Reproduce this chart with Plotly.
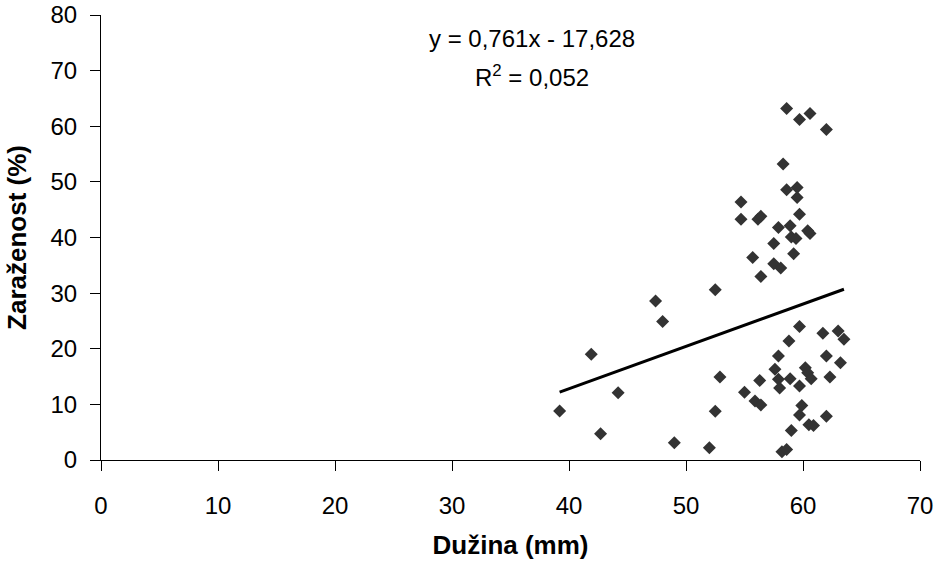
import plotly.graph_objects as go

# Data (Dužina mm, Zaraženost %)
duzina = [39.2, 41.9, 42.7, 44.2, 47.4, 48.0, 49.0, 52.0, 52.5, 52.9, 52.5,
          59.7, 61.7, 63.0, 63.5, 58.8, 57.9, 62.0, 63.2, 57.6, 60.2, 60.4,
          60.7, 58.9, 62.3, 56.3, 57.9, 58.0, 59.7, 55.0, 55.9, 56.4, 59.9,
          59.7, 62.0, 60.5, 60.9, 59.0, 58.2, 58.6,
          58.6, 59.7, 60.6, 62.0, 58.3, 58.6, 59.5, 59.5, 54.7, 54.7, 56.15,
          56.4, 59.7, 57.9, 58.9, 60.4, 60.6, 59.0, 59.4, 57.5, 59.2, 55.7,
          57.5, 58.1, 56.4]
zarazenost = [8.8, 19.0, 4.7, 12.1, 28.6, 24.9, 3.1, 2.2, 30.6, 14.9, 8.75,
              24.0, 22.8, 23.2, 21.7, 21.4, 18.7, 18.7, 17.5, 16.3, 16.6, 15.7,
              14.6, 14.6, 14.9, 14.3, 14.5, 12.95, 13.3, 12.2, 10.6, 9.9, 9.8,
              8.1, 7.85, 6.35, 6.2, 5.3, 1.5, 1.9,
              63.2, 61.2, 62.3, 59.4, 53.2, 48.6, 49.0, 47.2, 46.4, 43.3, 43.3,
              43.8, 44.2, 41.8, 42.1, 41.2, 40.7, 40.1, 39.8, 38.9, 37.1, 36.4,
              35.3, 34.5, 33.0]

slope = 0.761
intercept = -17.628
equation_text = "y = 0,761x - 17,628"
r2_text = "R<sup>2</sup> = 0,052"
x_ticks = [0, 10, 20, 30, 40, 50, 60, 70]
y_ticks = [0, 10, 20, 30, 40, 50, 60, 70, 80]

xmin, xmax = min(duzina), max(duzina)
trend_x = [xmin, xmax]
trend_y = [slope * v + intercept for v in trend_x]

fig = go.Figure()
fig.add_trace(go.Scatter(x=duzina, y=zarazenost, mode="markers",
                         marker=dict(symbol="diamond", size=10, color="#333333",
                                     line=dict(width=0)),
                         showlegend=False, cliponaxis=False))
fig.add_trace(go.Scatter(x=trend_x, y=trend_y, mode="lines",
                         line=dict(color="black", width=3), showlegend=False))

font_family = "Liberation Sans, Arial, sans-serif"
fig.update_layout(
    width=937, height=562,
    margin=dict(l=101, r=17, t=15, b=102),
    paper_bgcolor="white", plot_bgcolor="white",
    font=dict(family=font_family, size=24, color="black"),
    xaxis=dict(range=[0, 70], tickvals=x_ticks, showgrid=False, zeroline=False,
               showline=True, linecolor="black", linewidth=1, automargin=False,
               ticks="outside", ticklen=10, tickcolor="black",
               ticklabelstandoff=14, tickfont=dict(size=24),
               title=dict(text="<b>Dužina (mm)</b>", font=dict(size=26), standoff=18)),
    yaxis=dict(range=[0, 80], tickvals=y_ticks, showgrid=False, zeroline=False,
               showline=True, linecolor="black", linewidth=1, automargin=False,
               ticks="outside", ticklen=10, tickcolor="black",
               ticklabelstandoff=8, tickfont=dict(size=24),
               title=dict(text="<b>Zaraženost (%)</b>", font=dict(size=26), standoff=16)),
    annotations=[
        dict(text=equation_text, xref="paper", yref="paper",
             x=0.526, y=0.948, xanchor="center", yanchor="middle",
             showarrow=False, font=dict(size=24)),
        dict(text=r2_text, xref="paper", yref="paper",
             x=0.526, y=0.862, xanchor="center", yanchor="middle",
             showarrow=False, font=dict(size=24)),
    ],
)

fig.write_html("out.html", config={"displayModeBar": False},
               post_script="document.body.style.margin='0';")
